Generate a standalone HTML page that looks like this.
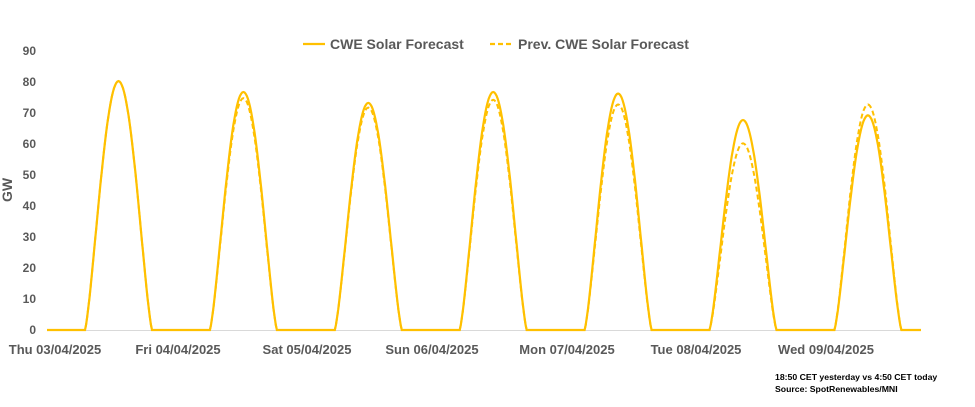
<!DOCTYPE html>
<html><head><meta charset="utf-8"><style>
body{margin:0;background:#fff;}
svg text{font-family:"Liberation Sans",Arial,sans-serif;}
</style></head><body>
<svg id="c" width="975" height="402" xmlns="http://www.w3.org/2000/svg">
<rect width="975" height="402" fill="#fff"/>
<g font-size="12" font-weight="bold" fill="#595959" text-anchor="end">
<text x="36" y="334">0</text><text x="36" y="303">10</text><text x="36" y="272">20</text>
<text x="36" y="241">30</text><text x="36" y="210">40</text><text x="36" y="179">50</text>
<text x="36" y="148">60</text><text x="36" y="117">70</text><text x="36" y="86">80</text>
<text x="36" y="55">90</text>
</g>
<text x="12" y="190" font-size="14" font-weight="bold" fill="#595959" transform="rotate(-90 12 190)" text-anchor="middle">GW</text>
<line x1="47" y1="330.5" x2="921" y2="330.5" stroke="#d9d9d9" stroke-width="1"/>
<g font-size="13" font-weight="bold" fill="#595959" text-anchor="middle">
<text x="55" y="354">Thu 03/04/2025</text><text x="178" y="354">Fri 04/04/2025</text>
<text x="307" y="354">Sat 05/04/2025</text><text x="432" y="354">Sun 06/04/2025</text>
<text x="567" y="354">Mon 07/04/2025</text><text x="696" y="354">Tue 08/04/2025</text>
<text x="826" y="354">Wed 09/04/2025</text>
</g>
<line x1="303" y1="44" x2="325" y2="44" stroke="#FFC000" stroke-width="2.2"/>
<text x="330" y="49" font-size="14" font-weight="bold" fill="#595959">CWE Solar Forecast</text>
<line x1="490" y1="44" x2="512" y2="44" stroke="#FFC000" stroke-width="2.2" stroke-dasharray="5,3"/>
<text x="518" y="49" font-size="14" font-weight="bold" fill="#595959">Prev. CWE Solar Forecast</text>
<g font-size="8.7" font-weight="bold" fill="#000">
<text x="775" y="380">18:50 CET yesterday vs  4:50 CET today</text>
<text x="775" y="392">Source: SpotRenewables/MNI</text>
</g>
<path id="p2" fill="none" stroke="#FFC000" stroke-width="2" stroke-dasharray="5,3"/>
<path id="p1" fill="none" stroke="#FFC000" stroke-width="2.2"/>
</svg>
<script>
var cur=[80,76.5,73,76.5,76,67.5,69],prev=[80,74.5,71.5,74,72.5,60,72.5];
function build(pk){var d="M47,330";for(var i=0;i<7;i++){var x0=47+i*124.9,s=x0+38,e=x0+105;
d+=" L"+s.toFixed(1)+",330";for(var k=1;k<=60;k++){var t=k/60,v=pk[i]*Math.pow(Math.sin(Math.PI*t),1.3);
d+=" L"+(s+(e-s)*t).toFixed(1)+","+(330-v*3.111).toFixed(1);}}
return d+" L921,330";}
document.getElementById("p1").setAttribute("d",build(cur));
document.getElementById("p2").setAttribute("d",build(prev));
</script>
</body></html>
